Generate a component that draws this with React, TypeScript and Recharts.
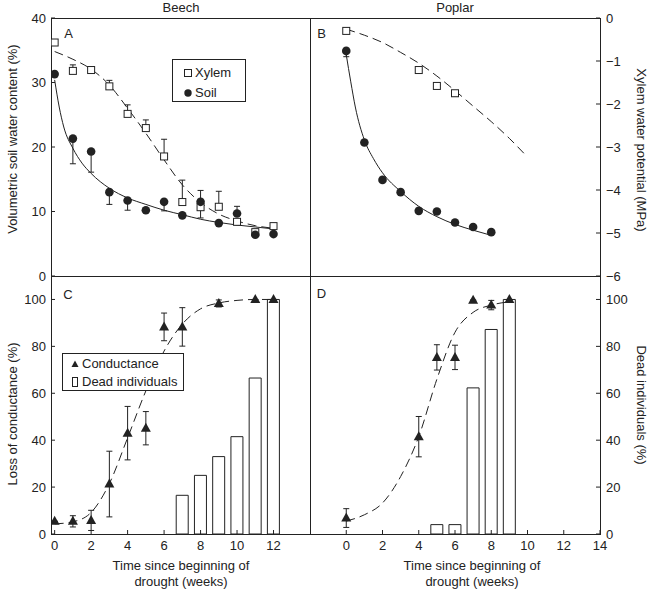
import React from 'react';
import { Bar, ComposedChart, ErrorBar, Legend, Line, Scatter, XAxis, YAxis } from 'recharts';

const INK = '#222';
const FONT = '"Liberation Sans", Arial, Helvetica, sans-serif';

// ---- A: beech, xylem water potential (MPa) + soil water content (%)
const beechWeeks = [0, 1, 2, 3, 4, 5, 6, 7, 8, 9, 10, 11, 12];
const beechXylem = [-0.57, -1.23, -1.21, -1.59, -2.23, -2.56, -3.22, -4.28, -4.4, -4.39, -4.74, -4.98, -4.84];
const beechXylemErrUp = [0, 0.14, 0.05, 0.14, 0.21, 0.19, 0.4, 0.51, 0.39, 0.36, 0, 0.05, 0];
const beechSoil = [31.3, 21.3, 19.3, 13.0, 11.7, 10.2, 11.5, 9.4, 11.5, 8.2, 9.7, 6.4, 6.5];
const beechSoilErrDown = [0, 3.9, 3.2, 1.9, 1.5, 0, 1.4, 0, 2.5, 0, 0, 0, 0];
const beechSoilErrUp = [0, 0, 0, 0, 0, 0, 0, 0, 0, 0, 1.1, 0, 0];
const beechXylemFit = [-0.78, -0.96, -1.19, -1.56, -2.1, -2.68, -3.3, -3.88, -4.29, -4.56, -4.72, -4.83, -4.89];
const beechSoilFitWeeks = [0, 0.25, 0.5, 1, 1.5, 2, 3, 4, 5, 6, 7, 8, 9, 10, 11, 12];
const beechSoilFit = [30.4, 26.2, 23.1, 19.8, 17.5, 15.9, 13.6, 12.1, 11.1, 10.2, 9.5, 8.8, 8.3, 7.9, 7.6, 7.3];

// ---- B: poplar
const poplarXylemWeeks = [0, 4, 5, 6];
const poplarXylem = [-0.3, -1.21, -1.58, -1.75];
const poplarXylemErrDown = [0, 0, 0, 0.07];
const poplarSoilWeeks = [0, 1, 2, 3, 4, 5, 6, 7, 8];
const poplarSoil = [34.9, 20.7, 14.9, 13.0, 10.1, 10.0, 8.3, 7.6, 6.8];
const poplarSoilErrDown = [0.9, 0, 0, 0, 0, 0, 0, 0, 0];
const poplarXylemFitWeeks = [0, 1, 2, 3, 4, 5, 6, 7, 8, 9, 9.9];
const poplarXylemFit = [-0.26, -0.4, -0.57, -0.8, -1.05, -1.35, -1.69, -2.05, -2.41, -2.8, -3.19];
const poplarSoilFitWeeks = [0, 0.25, 0.5, 1, 1.5, 2, 3, 4, 5, 6, 7, 8];
const poplarSoilFit = [34.3, 30.1, 26.2, 21.1, 18.2, 16.0, 13.1, 10.8, 9.2, 8.0, 7.1, 6.3];

// ---- C: beech, loss of conductance (%) + dead individuals (%)
const beechCondWeeks = [0, 1, 2, 3, 4, 5, 6, 7, 9, 11, 12];
const beechCond = [5.4, 5.4, 5.8, 21.3, 43.0, 45.1, 88.3, 88.3, 98.3, 100, 100];
const beechCondErr = [0, 2.4, 4.3, 14, 11.4, 7.1, 5.9, 8.2, 1.5, 0, 0];
const beechDeadWeeks = [7, 8, 9, 10, 11, 12];
const beechDead = [16.5, 25, 33, 41.5, 66.5, 100];
const beechCondFit = [4.3, 5.2, 9.2, 21.5, 41, 61, 78, 89.5, 96, 98.5, 99.6, 100, 100];

// ---- D: poplar
const poplarCondWeeks = [0, 4, 5, 6, 7, 8, 9];
const poplarCond = [6.8, 41.5, 75.3, 75.3, 99.7, 97.6, 100];
const poplarCondErr = [4, 8.6, 5.4, 5.2, 0, 2, 0];
const poplarDeadWeeks = [5, 6, 7, 8, 9];
const poplarDead = [4, 4, 62.3, 87.2, 100];
const poplarCondFitWeeks = [0, 1, 2, 3, 4, 5, 6, 7, 8, 9];
const poplarCondFit = [5.5, 8.2, 13.2, 24.5, 41.5, 66, 86, 94.5, 97.6, 99];

const pts = (xs: number[], ys: number[], lo?: number[], hi?: number[]) =>
  xs.map((x, i) => ({ x, y: ys[i], err: [lo ? lo[i] : 0, hi ? hi[i] : 0] }));
const bars = (xs: number[], ys: number[]) => xs.map((x, i) => ({ x, dead: ys[i] }));

const tickStyle = { fill: INK, fontSize: 13, fontFamily: FONT };
const minus = (v: number) => (v < 0 ? `\u2212${-v}` : `${v}`);

const Square = (p: any) => (
  <rect x={p.cx - 3.5} y={p.cy - 3.5} width={7} height={7} fill="#fff" stroke={INK} strokeWidth={1} />
);
const Dot = (p: any) => <circle cx={p.cx} cy={p.cy} r={4.3} fill={INK} />;
const Tri = (p: any) => (
  <polygon points={`${p.cx},${p.cy - 5.5} ${p.cx - 5},${p.cy + 3.5} ${p.cx + 5},${p.cy + 3.5}`} fill={INK} />
);

const Txt = ({ x, y, rot = 0, children }: any) => (
  <div
    style={{
      position: 'absolute', left: x, top: y, transform: `translate(-50%, -50%) rotate(${rot}deg)`,
      whiteSpace: 'nowrap', fontSize: 13, lineHeight: '16px', color: INK,
    }}
  >
    {children}
  </div>
);

const legendRow = (top: number, left: number, icon: React.ReactNode, text: string) => (
  <div style={{ position: 'absolute', top: top - 8, left: 0, height: 16, width: '100%' }}>
    <svg width={12} height={16} style={{ position: 'absolute', left: left - 6, top: 0 }}>{icon}</svg>
    <span style={{ position: 'absolute', left: left + 7, top: 0, lineHeight: '16px', fontSize: 13, color: INK }}>{text}</span>
  </div>
);

const LegendA = () => (
  <div style={{ position: 'relative', width: 74, height: 43, border: `1px solid ${INK}`, boxSizing: 'border-box', background: '#fff', fontFamily: FONT }}>
    {legendRow(13, 15, <rect x={2.5} y={4.5} width={7} height={7} fill="#fff" stroke={INK} />, 'Xylem')}
    {legendRow(33, 15, <circle cx={6} cy={8} r={3.7} fill={INK} />, 'Soil')}
  </div>
);

const LegendC = () => (
  <div style={{ position: 'relative', width: 122, height: 38, border: `1px solid ${INK}`, boxSizing: 'border-box', background: '#fff', fontFamily: FONT }}>
    {legendRow(10, 12, <polygon points="6,4.5 2.5,11 9.5,11" fill={INK} />, 'Conductance')}
    {legendRow(28, 12, <rect x={3.5} y={3.5} width={5} height={9} fill="#fff" stroke={INK} />, 'Dead individuals')}
  </div>
);

const lineProps = { type: 'monotone' as const, stroke: INK, strokeWidth: 1, dot: false, activeDot: false, isAnimationActive: false, legendType: 'none' as const };
const errProps = { dataKey: 'err', direction: 'y' as const, width: 3, stroke: INK, strokeWidth: 1 };
const yTicks = { tickSize: -4, tickMargin: 9, interval: 0 as const, axisLine: false, tick: tickStyle, tickLine: { stroke: INK }, allowDataOverflow: true };

export default function App() {
  return (
    <div style={{ position: 'absolute', left: 0, top: 0, width: 656, height: 590, background: '#fff', fontFamily: FONT }}>
      <div style={{ position: 'absolute', left: 51, top: 18, width: 550, height: 517, border: `1px solid ${INK}`, boxSizing: 'border-box' }} />
      <div style={{ position: 'absolute', left: 310, top: 18, width: 1, height: 517, background: INK }} />
      <div style={{ position: 'absolute', left: 51, top: 276, width: 550, height: 1, background: INK }} />

      {/* A */}
      <div style={{ position: 'absolute', left: 0, top: 0 }}>
        <ComposedChart width={310} height={290} margin={{ top: 18, right: 0, bottom: 14, left: 0 }}>
          <XAxis type="number" dataKey="x" domain={[-0.2, 14]} hide allowDataOverflow />
          <YAxis yAxisId="soil" type="number" domain={[0, 40]} ticks={[0, 10, 20, 30, 40]} width={51} {...yTicks} />
          <YAxis yAxisId="mpa" orientation="right" type="number" domain={[-6, 0]} hide allowDataOverflow />
          <Line yAxisId="mpa" data={pts(beechWeeks, beechXylemFit)} dataKey="y" strokeDasharray="9 5" {...lineProps} />
          <Line yAxisId="soil" data={pts(beechSoilFitWeeks, beechSoilFit)} dataKey="y" {...lineProps} />
          <Scatter yAxisId="mpa" name="Xylem" data={pts(beechWeeks, beechXylem, undefined, beechXylemErrUp)} dataKey="y" shape={Square} isAnimationActive={false}>
            <ErrorBar {...errProps} />
          </Scatter>
          <Scatter yAxisId="soil" name="Soil" data={pts(beechWeeks, beechSoil, beechSoilErrDown, beechSoilErrUp)} dataKey="y" shape={Dot} isAnimationActive={false}>
            <ErrorBar {...errProps} />
          </Scatter>
          <Legend content={LegendA} layout="vertical" align="center" verticalAlign="middle" wrapperStyle={{ left: 172, top: 59, width: 74, height: 43 }} />
        </ComposedChart>
      </div>

      {/* B */}
      <div style={{ position: 'absolute', left: 310, top: 0 }}>
        <ComposedChart width={346} height={290} margin={{ top: 18, right: 0, bottom: 14, left: 0 }}>
          <XAxis type="number" dataKey="x" domain={[-2, 14]} hide allowDataOverflow />
          <YAxis yAxisId="soil" type="number" domain={[0, 40]} hide allowDataOverflow />
          <YAxis yAxisId="mpa" orientation="right" type="number" domain={[-6, 0]} ticks={[-6, -5, -4, -3, -2, -1, 0]} width={56} tickFormatter={minus} {...yTicks} tickMargin={10} />
          <Line yAxisId="mpa" data={pts(poplarXylemFitWeeks, poplarXylemFit)} dataKey="y" strokeDasharray="9 5" {...lineProps} />
          <Line yAxisId="soil" data={pts(poplarSoilFitWeeks, poplarSoilFit)} dataKey="y" {...lineProps} />
          <Scatter yAxisId="mpa" data={pts(poplarXylemWeeks, poplarXylem, poplarXylemErrDown)} dataKey="y" shape={Square} isAnimationActive={false}>
            <ErrorBar {...errProps} />
          </Scatter>
          <Scatter yAxisId="soil" data={pts(poplarSoilWeeks, poplarSoil, poplarSoilErrDown)} dataKey="y" shape={Dot} isAnimationActive={false}>
            <ErrorBar {...errProps} />
          </Scatter>
        </ComposedChart>
      </div>

      {/* C */}
      <div style={{ position: 'absolute', left: 0, top: 276 }}>
        <ComposedChart width={310} height={314} data={bars(beechDeadWeeks, beechDead)} margin={{ top: 0, right: 0, bottom: 0, left: 0 }}>
          <XAxis type="number" dataKey="x" domain={[-0.2, 14]} ticks={[0, 2, 4, 6, 8, 10, 12]} height={56} {...yTicks} tickMargin={11} />
          <YAxis yAxisId="loss" type="number" domain={[0, 110]} ticks={[0, 20, 40, 60, 80, 100]} width={51} {...yTicks} />
          <YAxis yAxisId="dead" orientation="right" type="number" domain={[0, 110]} hide allowDataOverflow />
          <Bar yAxisId="dead" dataKey="dead" barSize={12} fill="#fff" stroke={INK} strokeWidth={1} isAnimationActive={false} />
          <Line yAxisId="loss" data={pts(beechWeeks, beechCondFit)} dataKey="y" strokeDasharray="9 5" {...lineProps} />
          <Scatter yAxisId="loss" data={pts(beechCondWeeks, beechCond, beechCondErr, beechCondErr)} dataKey="y" shape={Tri} isAnimationActive={false}>
            <ErrorBar {...errProps} />
          </Scatter>
          <Legend content={LegendC} layout="vertical" align="center" verticalAlign="middle" wrapperStyle={{ left: 62, top: 77, width: 122, height: 38 }} />
        </ComposedChart>
      </div>

      {/* D */}
      <div style={{ position: 'absolute', left: 310, top: 276 }}>
        <ComposedChart width={346} height={314} data={bars(poplarDeadWeeks, poplarDead)} margin={{ top: 0, right: 0, bottom: 0, left: 0 }}>
          <XAxis type="number" dataKey="x" domain={[-2, 14]} ticks={[0, 2, 4, 6, 8, 10, 12, 14]} height={56} {...yTicks} tickMargin={11} />
          <YAxis yAxisId="loss" type="number" domain={[0, 110]} hide allowDataOverflow />
          <YAxis yAxisId="dead" orientation="right" type="number" domain={[0, 110]} ticks={[0, 20, 40, 60, 80, 100]} width={56} {...yTicks} tickMargin={10} />
          <Bar yAxisId="dead" dataKey="dead" barSize={12} fill="#fff" stroke={INK} strokeWidth={1} isAnimationActive={false} />
          <Line yAxisId="loss" data={pts(poplarCondFitWeeks, poplarCondFit)} dataKey="y" strokeDasharray="9 5" {...lineProps} />
          <Scatter yAxisId="loss" data={pts(poplarCondWeeks, poplarCond, poplarCondErr, poplarCondErr)} dataKey="y" shape={Tri} isAnimationActive={false}>
            <ErrorBar {...errProps} />
          </Scatter>
        </ComposedChart>
      </div>

      <Txt x={181} y={8}>Beech</Txt>
      <Txt x={455} y={8}>Poplar</Txt>
      <Txt x={68.5} y={34}>A</Txt>
      <Txt x={321.5} y={34}>B</Txt>
      <Txt x={68} y={295}>C</Txt>
      <Txt x={321.5} y={294}>D</Txt>
      <Txt x={13} y={139} rot={-90}>Volumetric soil water content (%)</Txt>
      <Txt x={13} y={414} rot={-90}>Loss of conductance (%)</Txt>
      <Txt x={641} y={150} rot={90}>Xylem water potential (MPa)</Txt>
      <Txt x={641} y={405} rot={90}>Dead individuals (%)</Txt>
      <Txt x={181} y={566}>Time since beginning of</Txt>
      <Txt x={181} y={582}>drought (weeks)</Txt>
      <Txt x={472} y={566}>Time since beginning of</Txt>
      <Txt x={472} y={582}>drought (weeks)</Txt>
    </div>
  );
}
